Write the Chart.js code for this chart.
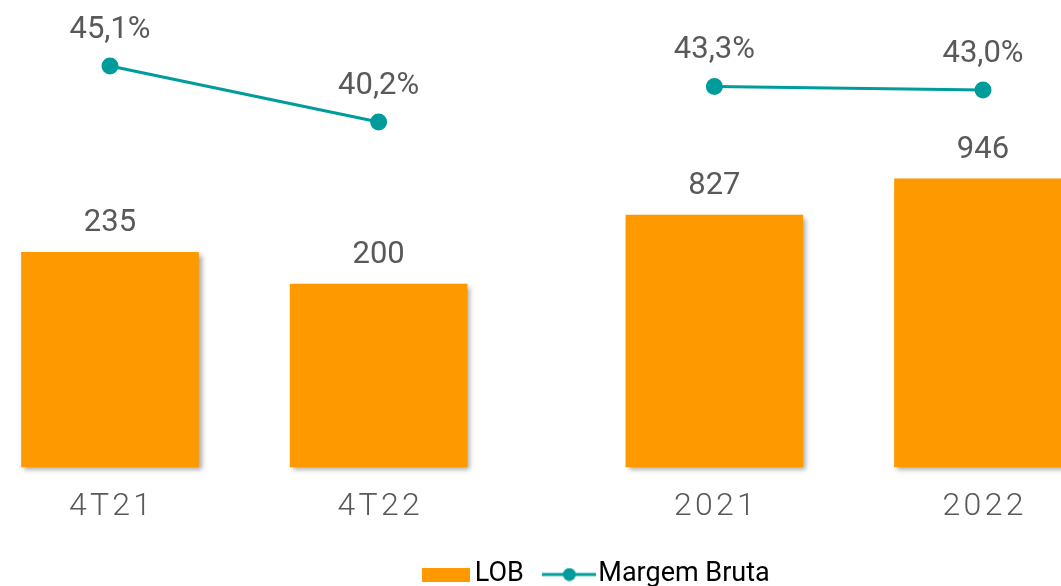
<!DOCTYPE html>
<html>
<head>
<meta charset="utf-8">
<script src="https://cdn.jsdelivr.net/npm/chart.js@4"></script>
<style>
  html, body { margin: 0; padding: 0; background: #fff; overflow: hidden; }
  #wrap { width: 1200px; height: 600px; }
</style>
</head>
<body>
<div id="wrap"><canvas id="chart"></canvas></div>
<script>
const quarterLabels = ['4T21', '4T22']
const yearLabels = ['2021', '2022']
const lobQuarter = [235, 200]
const lobYear = [827, 946]
const margemQuarter = [45.1, 40.2]
const margemYear = [43.3, 43.0]

const gray = '#595959'
const orange = '#FF9900'
const teal = '#009B9B'

// wider gap between 4T22 and 2021 -> empty slots on the category axis
const slotOf = { '4T21': 0, '4T22': 4, '2021': 9, '2022': 13 }
const slotLabels = new Array(14).fill('')
for (const c of [...quarterLabels, ...yearLabels]) slotLabels[slotOf[c]] = c

const pairs = (labels, values) => labels.map((l, i) => ({ x: l, y: values[i] }))

function icon(w, h, draw) {
  const c = document.createElement('canvas')
  c.width = w
  c.height = h
  draw(c.getContext('2d'))
  return c
}
const barIcon = icon(48, 14, g => { g.fillStyle = orange; g.fillRect(0, 0, 48, 14) })
const lineIcon = icon(54, 14, g => {
  g.strokeStyle = teal
  g.lineWidth = 3
  g.beginPath(); g.moveTo(0, 7); g.lineTo(54, 7); g.stroke()
  g.fillStyle = teal
  g.beginPath(); g.arc(27, 7, 6.5, 0, Math.PI * 2); g.fill()
})

const barShadow = {
  id: 'barShadow',
  beforeDatasetDraw(chart, args) {
    if (args.meta.type !== 'bar') return
    const ctx = chart.ctx
    ctx.save()
    ctx.shadowColor = 'rgba(0,0,0,0.35)'
    ctx.shadowBlur = 5
    ctx.shadowOffsetX = 3
    ctx.shadowOffsetY = 3
  },
  afterDatasetDraw(chart, args) {
    if (args.meta.type !== 'bar') return
    chart.ctx.restore()
  }
}

const valueLabels = {
  id: 'valueLabels',
  afterDatasetsDraw(chart) {
    const ctx = chart.ctx
    ctx.save()
    ctx.font = '400 31px Roboto'
    ctx.fillStyle = gray
    ctx.textAlign = 'center'
    ctx.textBaseline = 'middle'
    chart.data.datasets.forEach((ds, di) => {
      const meta = chart.getDatasetMeta(di)
      meta.data.forEach((el, i) => {
        const v = ds.data[i].y
        if (meta.type === 'line') ctx.fillText(v.toFixed(1).replace('.', ',') + '%', el.x, el.y - 36)
        else ctx.fillText(String(v), el.x, el.y - 29)
      })
    })
    ctx.restore()
  }
}

const hiddenAxis = (position, max, width) => ({
  position, min: 0, max,
  ticks: { display: false },
  grid: { display: false },
  border: { display: false },
  afterFit: s => { s.width = width }
})

new Chart(document.getElementById('chart'), {
  type: 'bar',
  data: {
    labels: slotLabels,
    datasets: [
      {
        type: 'line', label: 'Margem Bruta', yAxisID: 'yl',
        data: pairs([...quarterLabels, ...yearLabels], [...margemQuarter, ...margemYear]),
        borderColor: teal, backgroundColor: teal, borderWidth: 3,
        pointRadius: 7, pointHoverRadius: 7, spanGaps: 4, clip: false
      },
      {
        label: 'LOB', yAxisID: 'yq', data: pairs(quarterLabels, lobQuarter),
        backgroundColor: orange, barThickness: 177, grouped: false, clip: false
      },
      {
        label: 'LOB', yAxisID: 'ya', data: pairs(yearLabels, lobYear),
        backgroundColor: orange, barThickness: 177, grouped: false, clip: false
      }
    ]
  },
  options: {
    responsive: true,
    maintainAspectRatio: false,
    animation: false,
    layout: { padding: { top: 10, bottom: 2 } },
    scales: {
      x: {
        offset: false,
        grid: { display: false, drawTicks: false },
        border: { display: false },
        ticks: {
          autoSkip: false, maxRotation: 0, padding: 21, color: gray,
          font: { family: 'Roboto', size: 32, weight: 300 },
          callback(value) { return this.getLabelForValue(value).split('').join('\u200A') }
        },
        afterFit: s => { s.height = 64 }
      },
      yq: hiddenAxis('left', 500, 110),
      ya: hiddenAxis('right', 1500, 217),
      yl: { display: false, min: 10, max: 50 }
    },
    plugins: {
      tooltip: { enabled: false },
      legend: {
        position: 'bottom',
        labels: {
          usePointStyle: true,
          pointStyleWidth: 31,
          padding: 30,
          color: gray,
          font: { family: 'Roboto', size: 27 },
          generateLabels: () => [
            { text: 'LOB', pointStyle: barIcon, fillStyle: orange, strokeStyle: orange, lineWidth: 0, hidden: false, datasetIndex: 1 },
            { text: 'Margem Bruta', pointStyle: lineIcon, fillStyle: teal, strokeStyle: teal, lineWidth: 0, hidden: false, datasetIndex: 0 }
          ]
        }
      }
    }
  },
  plugins: [barShadow, valueLabels]
})
</script>
</body>
</html>
